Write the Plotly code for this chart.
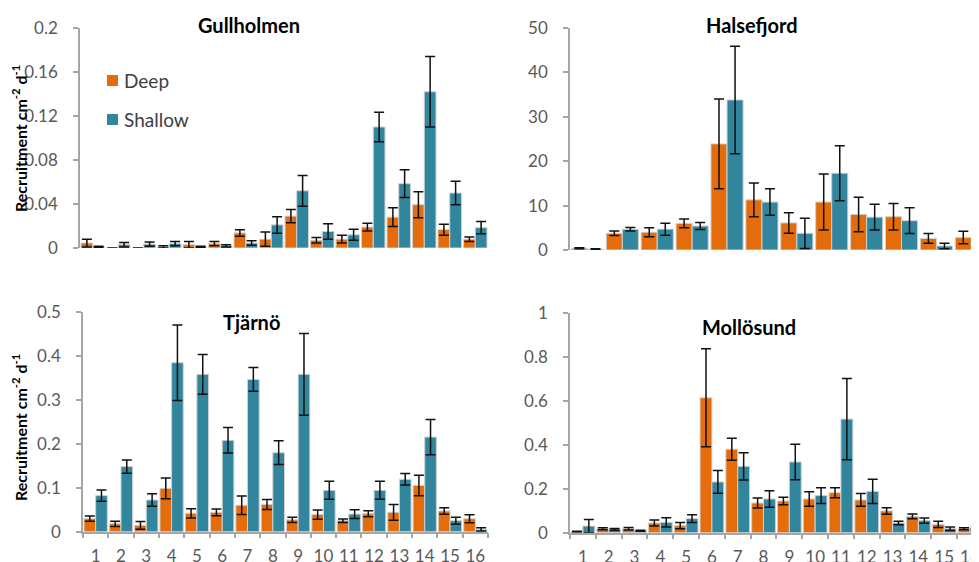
import plotly.graph_objects as go

# ---------------- data ----------------
cats16 = [str(i) for i in range(1, 17)]
cats12 = [str(i) for i in range(1, 13)]

gull_deep = [0.0045, 0, 0, 0.001, 0.003, 0.004, 0.0137, 0.008, 0.029, 0.007, 0.008, 0.019, 0.028, 0.0394, 0.0167, 0.008]
gull_deep_err = [0.0035, 0, 0, 0.001, 0.003, 0.002, 0.003, 0.0065, 0.006, 0.0025, 0.0035, 0.0035, 0.0085, 0.0118, 0.005, 0.002]
gull_shal = [0.001, 0.003, 0.0035, 0.004, 0.001, 0.002, 0.0045, 0.021, 0.052, 0.015, 0.012, 0.110, 0.0585, 0.142, 0.050, 0.0185]
gull_shal_err = [0.0005, 0.002, 0.002, 0.002, 0.0005, 0.001, 0.002, 0.0075, 0.014, 0.007, 0.005, 0.0135, 0.0127, 0.032, 0.0106, 0.0055]

hals_deep = [0.4, 3.76, 4.0, 6.0, 23.9, 11.3, 6.1, 10.8, 8.0, 7.5, 2.6, 2.8]
hals_deep_err = [0.1, 0.5, 1.0, 1.0, 10.1, 3.8, 2.3, 6.3, 3.9, 3.0, 1.1, 1.4]
hals_shal = [0.2, 4.66, 4.7, 5.4, 33.8, 10.8, 3.76, 17.3, 7.4, 6.6, 0.9, 1.8]
hals_shal_err = [0.1, 0.4, 1.35, 0.8, 12.1, 3.0, 3.4, 6.2, 2.9, 2.9, 0.6, 0.9]

tjar_deep = [0.0295, 0.018, 0.0144, 0.0985, 0.0417, 0.044, 0.060, 0.062, 0.027, 0.039, 0.025, 0.041, 0.044, 0.105, 0.047, 0.0295]
tjar_deep_err = [0.006, 0.006, 0.009, 0.0235, 0.0106, 0.0076, 0.021, 0.0114, 0.006, 0.0106, 0.004, 0.0068, 0.018, 0.0235, 0.0076, 0.009]
tjar_shal = [0.082, 0.148, 0.072, 0.384, 0.3576, 0.2076, 0.346, 0.1795, 0.3576, 0.094, 0.040, 0.094, 0.119, 0.215, 0.025, 0.005]
tjar_shal_err = [0.013, 0.015, 0.014, 0.086, 0.045, 0.029, 0.027, 0.027, 0.093, 0.0205, 0.010, 0.0205, 0.013, 0.040, 0.008, 0.004]

moll_deep = [0.005, 0.018, 0.018, 0.044, 0.032, 0.614, 0.380, 0.135, 0.144, 0.1535, 0.182, 0.149, 0.099, 0.0745, 0.038, 0.018]
moll_deep_err = [0.002, 0.005, 0.006, 0.014, 0.014, 0.223, 0.050, 0.023, 0.017, 0.033, 0.023, 0.029, 0.015, 0.011, 0.014, 0.005]
moll_shal = [0.030, 0.015, 0.009, 0.047, 0.064, 0.231, 0.302, 0.1535, 0.322, 0.169, 0.517, 0.188, 0.044, 0.055, 0.018, 0.024]
moll_shal_err = [0.030, 0.004, 0.002, 0.021, 0.018, 0.052, 0.062, 0.038, 0.081, 0.036, 0.185, 0.055, 0.008, 0.012, 0.008, 0.006]

gull_ticks = [0, 0.04, 0.08, 0.12, 0.16, 0.2]
gull_ticktext = ["0", "0.04", "0.08", "0.12", "0.16", "0.2"]
hals_ticks = [0, 10, 20, 30, 40, 50]
hals_ticktext = ["0", "10", "20", "30", "40", "50"]
tjar_ticks = [0, 0.1, 0.2, 0.3, 0.4, 0.5]
tjar_ticktext = ["0", "0.1", "0.2", "0.3", "0.4", "0.5"]
moll_ticks = [0, 0.2, 0.4, 0.6, 0.8, 1.0]
moll_ticktext = ["0", "0.2", "0.4", "0.6", "0.8", "1"]

site_names = ["Gullholmen", "Halsefjord", "Tjärnö", "Mollösund"]
series_names = ["Deep", "Shallow"]
ytitle = "Recruitment cm<sup>-2</sup> d<sup>-1</sup>"

# ---------------- style ----------------
OFF = 8  # page body margin
W, H = 979 - OFF, 562 - OFF
ORANGE = "#E46C0A"
TEAL = "#31859C"
FONT = "Lato"
TICKCOL = "#595959"
AXCOL = "#A6A6A6"
COLORS = [ORANGE, TEAL]


def px_x(p):
    return (p - OFF) / W


def px_y(p):
    return 1 - (p - OFF) / H


fig = go.Figure()

panels = [
    (cats16, gull_deep, gull_deep_err, gull_shal, gull_shal_err, "x", "y"),
    (cats12, hals_deep, hals_deep_err, hals_shal, hals_shal_err, "x2", "y2"),
    (cats16, tjar_deep, tjar_deep_err, tjar_shal, tjar_shal_err, "x3", "y3"),
    (cats16, moll_deep, moll_deep_err, moll_shal, moll_shal_err, "x4", "y4"),
]

for i, (cats, d, de, s, se, xa, ya) in enumerate(panels):
    for name, vals, errs, col in [(series_names[0], d, de, ORANGE), (series_names[1], s, se, TEAL)]:
        fig.add_trace(go.Bar(
            x=cats, y=vals, name=name, xaxis=xa, yaxis=ya,
            marker=dict(color=col, line=dict(color="#D0D0D0", width=1)),
            error_y=dict(type="data", array=errs, visible=True, color="#111111",
                         thickness=1.5, width=5),
            showlegend=False,
        ))

common_y = dict(showline=True, linecolor=AXCOL, linewidth=1.5, ticks="outside",
                ticklen=5, tickcolor=AXCOL, tickwidth=1.5, showgrid=False, zeroline=False,
                tickfont=dict(family=FONT, size=17, color=TICKCOL), ticklabelstandoff=12,
                automargin=False)
common_x = dict(type="category", showgrid=False, zeroline=False, automargin=False)
bottom_x = dict(showline=True, linecolor=AXCOL, linewidth=1.5, ticks="outside",
                tickson="boundaries", ticklen=5, tickcolor=AXCOL, tickwidth=1.5,
                tickangle=0, tickfont=dict(family=FONT, size=17, color=TICKCOL),
                ticklabelstandoff=8, ticklabeloverflow="allow")

fig.update_layout(
    width=W, height=H,
    margin=dict(l=0, r=0, t=0, b=0, autoexpand=False),
    paper_bgcolor="white", plot_bgcolor="white",
    barmode="group", bargap=0.08, bargroupgap=0,
    font=dict(family=FONT, color="#000000"),
    showlegend=False,
    xaxis=dict(domain=[px_x(80), px_x(488)], anchor="y", range=[-0.5, 15.5],
               showline=False, showticklabels=False, ticks="", **common_x),
    yaxis=dict(domain=[px_y(248), px_y(28)], anchor="x", range=[0, 0.2],
               tickvals=gull_ticks, ticktext=gull_ticktext, **common_y),
    xaxis2=dict(domain=[px_x(570), 1.0], anchor="y2", range=[-0.5, 11.22],
                showline=False, showticklabels=False, ticks="", **common_x),
    yaxis2=dict(domain=[px_y(250), px_y(28)], anchor="x2", range=[0, 50],
                tickvals=hals_ticks, ticktext=hals_ticktext, **common_y),
    xaxis3=dict(domain=[px_x(83), px_x(488)], anchor="y3", range=[-0.5, 15.5],
                **bottom_x, **common_x),
    yaxis3=dict(domain=[px_y(531.7), px_y(311.7)], anchor="x3", range=[0, 0.5],
                tickvals=tjar_ticks, ticktext=tjar_ticktext, **common_y),
    xaxis4=dict(domain=[px_x(570), 1.0], anchor="y4", range=[-0.5, 15.35],
                **bottom_x, **common_x),
    yaxis4=dict(domain=[px_y(532.7), px_y(313)], anchor="x4", range=[0, 1],
                tickvals=moll_ticks, ticktext=moll_ticktext, **common_y),
)

# legend (drawn inside the Gullholmen panel)
legend_rows = [80.5, 119.5]
for name, col, ly in zip(series_names, COLORS, legend_rows):
    fig.add_shape(type="rect", xref="paper", yref="paper",
                  x0=px_x(107), x1=px_x(118), y0=px_y(ly + 5.5), y1=px_y(ly - 5.5),
                  fillcolor=col, line=dict(width=0))
    fig.add_annotation(text=name, x=px_x(122), y=px_y(ly), xref="paper", yref="paper",
                       showarrow=False, xanchor="left", yanchor="middle",
                       font=dict(family=FONT, size=19, color="#404040"))

title_pos = [(249, 25), (752, 25), (252, 322), (749, 327)]
for name, (tx, ty) in zip(site_names, title_pos):
    fig.add_annotation(text="<b>%s</b>" % name, x=px_x(tx), y=px_y(ty), xref="paper", yref="paper",
                       showarrow=False, xanchor="center", yanchor="middle",
                       font=dict(family=FONT, size=20, color="#000000"))

for ty in [139, 428]:
    fig.add_annotation(text="<b>%s</b>" % ytitle, x=px_x(19), y=px_y(ty), xref="paper", yref="paper",
                       showarrow=False, xanchor="center", yanchor="middle", textangle=-90,
                       font=dict(family=FONT, size=16, color="#000000"))

fig.write_html("out.html")
